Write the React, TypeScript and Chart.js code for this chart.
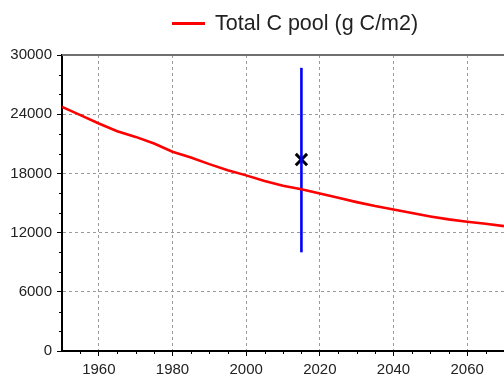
import React, { useEffect, useRef } from "react";
import { Chart, registerables } from "chart.js";

Chart.register(...registerables);

const years = [1950, 1955, 1960, 1965, 1970, 1975, 1980, 1985, 1990, 1995, 2000, 2005, 2010, 2015, 2020, 2025, 2030, 2035, 2040, 2045, 2050, 2055, 2060, 2065, 2070];
const totalCPool = [24740, 23900, 23060, 22280, 21700, 21030, 20190, 19620, 18940, 18330, 17800, 17220, 16750, 16400, 15970, 15530, 15090, 14690, 14350, 13980, 13640, 13340, 13100, 12900, 12660];
const obsYear = 2015;
const obsRange = [10000, 28700];
const obsMean = 19400;
const xTicks = [1960, 1980, 2000, 2020, 2040, 2060];
const yTicks = [0, 6000, 12000, 18000, 24000, 30000];
const legendLabel = "Total C pool (g C/m2)";

const FONT = "'Liberation Sans', Arial, sans-serif";

const extrasPlugin = {
  id: "extras",
  afterDraw(chart: any) {
    const { ctx, chartArea } = chart;
    const xs = chart.scales.x;
    const ys = chart.scales.y;
    ctx.save();
    // top border
    ctx.strokeStyle = "#707070";
    ctx.lineWidth = 2;
    ctx.beginPath();
    ctx.moveTo(chartArea.left, chartArea.top);
    ctx.lineTo(chartArea.right, chartArea.top);
    ctx.stroke();
    // minor ticks
    ctx.strokeStyle = "#000";
    ctx.lineWidth = 1;
    for (let v = 1955; v < 2070; v += 5) {
      if (v % 20 === 0) continue;
      const px = Math.round(xs.getPixelForValue(v)) + 0.5;
      ctx.beginPath();
      ctx.moveTo(px, chartArea.bottom);
      ctx.lineTo(px, chartArea.bottom + 3);
      ctx.stroke();
    }
    for (let v = 2000; v < 30000; v += 2000) {
      if (v % 6000 === 0) continue;
      const py = Math.round(ys.getPixelForValue(v)) + 0.5;
      ctx.beginPath();
      ctx.moveTo(chartArea.left - 3, py);
      ctx.lineTo(chartArea.left, py);
      ctx.stroke();
    }
    // legend
    const ds = chart.data.datasets[0];
    ctx.strokeStyle = ds.borderColor;
    ctx.lineWidth = 3;
    ctx.beginPath();
    ctx.moveTo(172, 23.5);
    ctx.lineTo(205, 23.5);
    ctx.stroke();
    ctx.fillStyle = "#222";
    ctx.font = `21.5px ${FONT}`;
    ctx.textBaseline = "middle";
    ctx.textAlign = "left";
    ctx.fillText(ds.label, 215, 24);
    ctx.restore();
  },
};

export default function App() {
  const ref = useRef<HTMLCanvasElement>(null);
  useEffect(() => {
    const canvas = ref.current!;
    const chart = new Chart(canvas, {
      type: "line",
      data: {
        datasets: [
          {
            label: legendLabel,
            data: years.map((y, i) => ({ x: y, y: totalCPool[i] })),
            borderColor: "#ff0000",
            borderWidth: 2.6,
            pointRadius: 0,
            tension: 0,
          },
          {
            label: "Observed range",
            data: obsRange.map((v) => ({ x: obsYear, y: v })),
            borderColor: "#0000ff",
            borderWidth: 2.6,
            pointRadius: 0,
          },
          {
            label: "Observed mean",
            data: [{ x: obsYear, y: obsMean }],
            showLine: false,
            pointStyle: "crossRot",
            pointRadius: 8,
            borderColor: "#000",
            backgroundColor: "#000",
            pointBorderWidth: 3,
          },
        ],
      },
      options: {
        responsive: false,
        animation: false,
        layout: { autoPadding: false, padding: { top: 55, left: 0, right: 0, bottom: 0 } },
        plugins: { legend: { display: false }, tooltip: { enabled: false } },
        scales: {
          x: {
            type: "linear",
            min: 1950,
            max: 2070,
            afterBuildTicks: (s: any) => {
              s.ticks = xTicks.map((v) => ({ value: v }));
            },
            afterFit: (s: any) => {
              s.height = 28;
              s.paddingLeft = 0;
              s.paddingRight = 0;
            },
            grid: {
              color: "#9a9a9a",
              lineWidth: 1,
              tickColor: "#000",
              tickLength: 5,
            },
            border: { display: true, color: "#000", width: 2, dash: [3, 3] },
            ticks: {
              color: "#222",
              font: { family: FONT, size: 15 },
              padding: 5,
              maxRotation: 0,
              callback: (v: any) => String(v),
            },
          },
          y: {
            type: "linear",
            min: 0,
            max: 30000,
            afterBuildTicks: (s: any) => {
              s.ticks = yTicks.map((v) => ({ value: v }));
            },
            afterFit: (s: any) => {
              s.width = 62;
            },
            grid: {
              color: (c: any) =>
                c.tick && (c.tick.value === 0 || c.tick.value === 30000) ? "rgba(0,0,0,0)" : "#9a9a9a",
              lineWidth: 1,
              tickColor: "#000",
              tickLength: 5,
            },
            border: { display: true, color: "#000", width: 2, dash: [3, 3] },
            ticks: {
              color: "#222",
              font: { family: FONT, size: 15 },
              padding: 5,
              callback: (v: any) => String(v),
            },
          },
        },
      },
      plugins: [extrasPlugin],
    } as any);
    return () => chart.destroy();
  }, []);
  return (
    <div style={{ position: "fixed", left: 0, top: 0, width: 504, height: 379, background: "#fff" }}>
      <canvas ref={ref} width={504} height={379} />
    </div>
  );
}
